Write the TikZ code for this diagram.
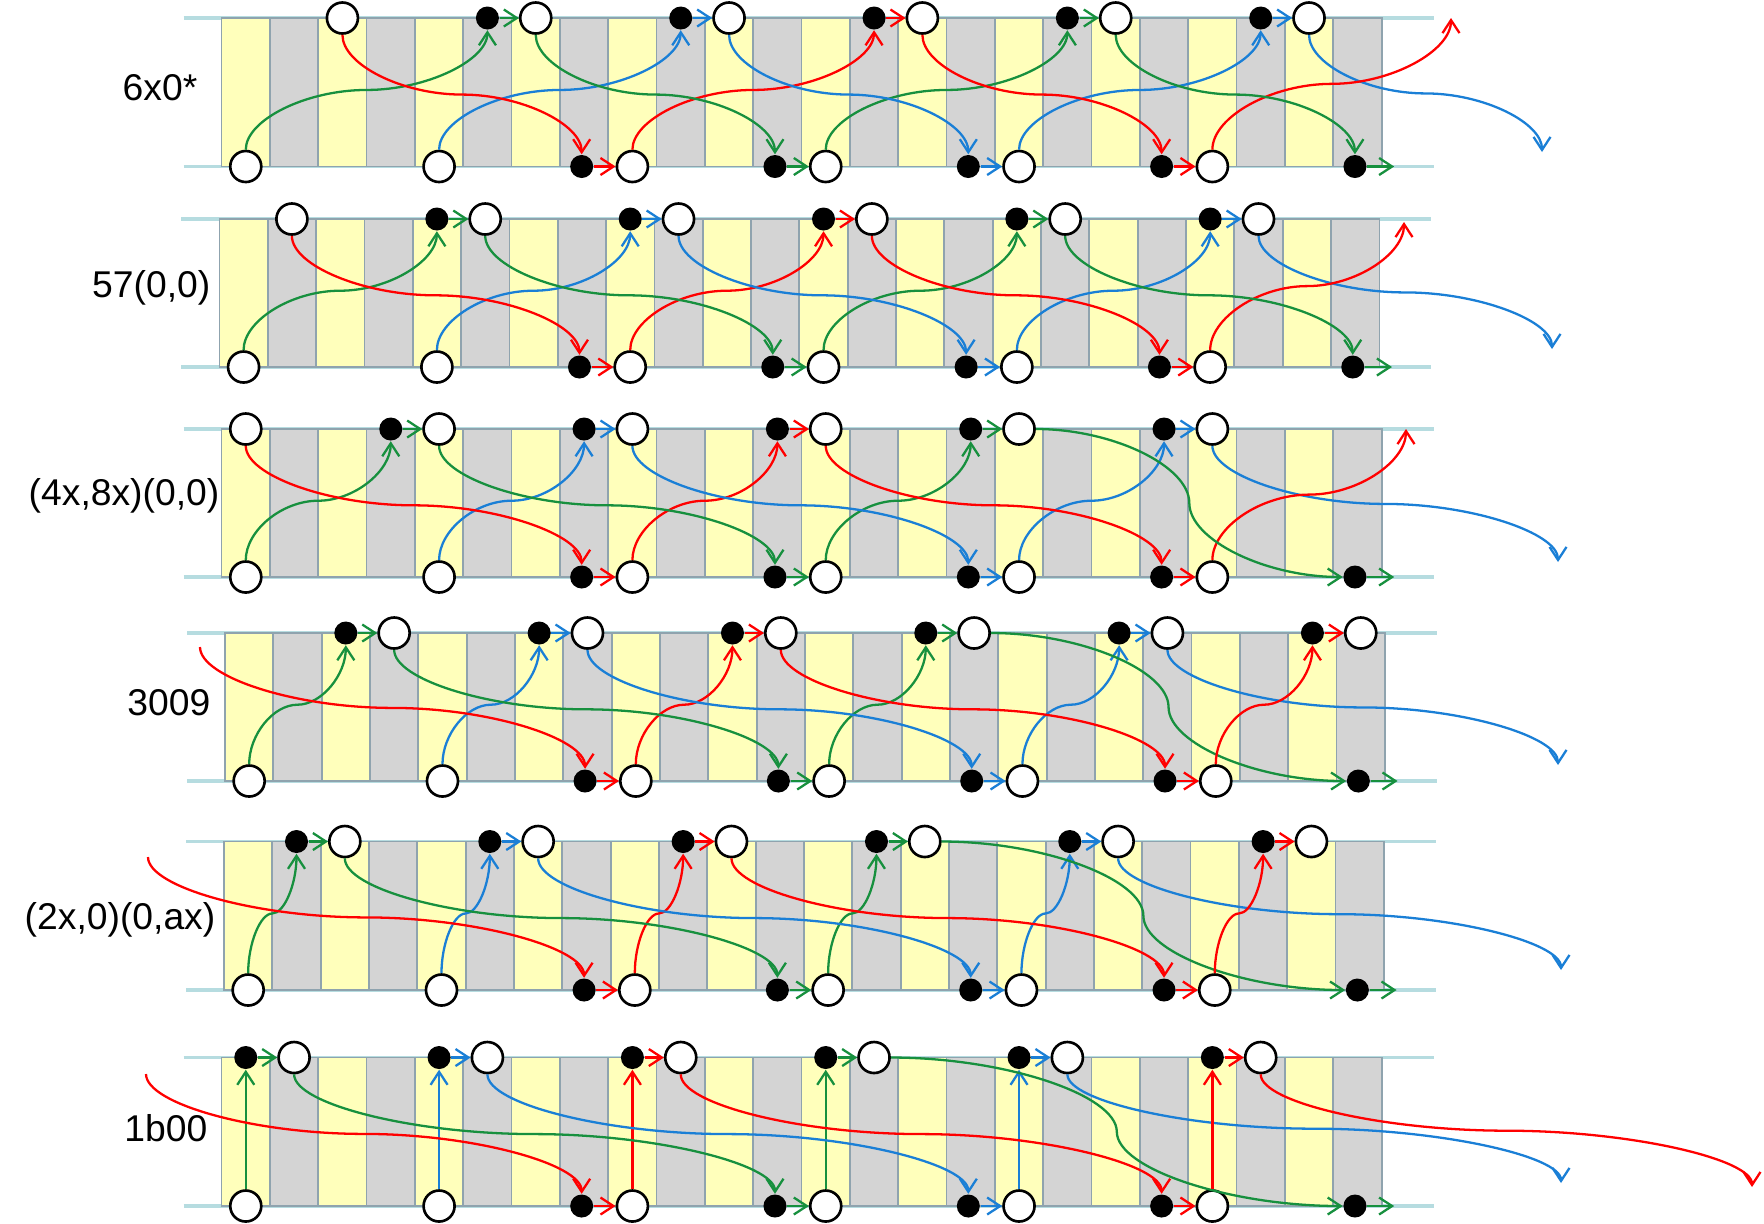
\documentclass[tikz,border=0pt]{standalone}
\usepackage{fontspec}
\setmainfont{Liberation Sans}
\usepackage{tikz}
\usetikzlibrary{arrows.meta}
\usetikzlibrary{calc, positioning}
\definecolor{vgreen}{HTML}{17903E}
\definecolor{vblue}{HTML}{1A7FD6}
\definecolor{vred}{HTML}{FF0000}
\definecolor{bandyellow}{HTML}{FFFFBB}
\definecolor{bandgray}{HTML}{D4D4D4}
\definecolor{bandedge}{HTML}{8FA3AE}
\definecolor{railblue}{HTML}{B6DCE0}

\begin{document}
\begin{tikzpicture}[x=0.01cm, y=-0.01cm,
  whitenode/.style={circle, draw=black, line width=0.75pt, fill=white, minimum size=0.31cm, inner sep=0pt},
  blacknode/.style={circle, fill=black, minimum size=0.23cm, inner sep=0pt},
  link/.style={line width=0.65pt, -{Straight Barb[length=1.3mm, width=1.7mm]}},
  rail/.style={draw=railblue, line width=1pt},
  rowlabel/.style={anchor=east, inner sep=0pt, font=\fontsize{10.6}{12}\selectfont},
  vv/.style={to path={let \p1=(\tikztostart), \p2=(\tikztotarget),
    \p3=({(\x1+\x2)/2},{(\y1+\y2)/2}) in
    .. controls (\x1,{(\y1+\y3)/2}) and ({(\x1+\x3)/2},\y3) .. (\p3)
    .. controls ({(\x3+\x2)/2},\y3) and (\x2,{(\y3+\y2)/2}) .. (\p2)}},
  hh/.style={to path={let \p1=(\tikztostart), \p2=(\tikztotarget),
    \p3=({(\x1+\x2)/2},{(\y1+\y2)/2}) in
    .. controls ({(\x1+\x3)/2},\y1) and (\x3,{(\y1+\y3)/2}) .. (\p3)
    .. controls (\x3,{(\y3+\y2)/2}) and ({(\x3+\x2)/2},\y2) .. (\p2)}}]
  \useasboundingbox (0,0) rectangle (1764,1223);

  % loose ends on the right and left
  \coordinate (rt-1) at (1451,18);
  \coordinate (rt-2) at (1404,222);
  \coordinate (rt-3) at (1406,429);
  \coordinate (bt-1) at (1542,152);
  \coordinate (bt-2) at (1552,349);
  \coordinate (bt-3) at (1558,562);
  \coordinate (bt-4) at (1558,765);
  \coordinate (bt-5) at (1561,970);
  \coordinate (bt-6) at (1561,1183);
  \coordinate (rl-4) at (200,647);
  \coordinate (rl-5) at (148,857);
  \coordinate (rl-6) at (146,1074);
  \coordinate (rf-6) at (1752,1187);

  % row labels
  \node[rowlabel] (lab-1) at (198,88) {6x0*};
  \node[rowlabel] (lab-2) at (211,288) {57(0,0)};
  \node[rowlabel] (lab-3) at (220,496) {(4x,8x)(0,0)};
  \node[rowlabel] (lab-4) at (211,703) {3009};
  \node[rowlabel] (lab-5) at (216,920) {(2x,0)(0,ax)};
  \node[rowlabel] (lab-6) at (208,1128) {1b00};

  % bands and nodes
  \foreach \r/\yt/\yb/\xl/\o in {1/18/166.5/221.6/5, 2/219/367/219.4/4, 3/429/577/221.6/3,
                                 4/633/781/225/2, 5/841.5/990/224/1, 6/1057.5/1206/221.6/0} {
    \draw[rail] ({\xl-38},\yt) -- ({\xl+1212},\yt);
    \draw[rail] ({\xl-38},\yb) -- ({\xl+1212},\yb);
    \foreach \u in {0,2,...,22}
      \fill[bandyellow] ({\xl+48.33*\u},\yt) rectangle ({\xl+48.33*(\u+1)},\yb);
    \foreach \u in {1,3,...,23}
      \fill[bandgray] ({\xl+48.33*\u},\yt) rectangle ({\xl+48.33*(\u+1)},\yb);
    \foreach \u in {1,...,23}
      \draw[bandedge, line width=0.5pt] ({\xl+48.33*\u},\yt) -- ({\xl+48.33*\u},\yb);
    \draw[bandedge, line width=0.5pt] (\xl,\yt) rectangle ({\xl+1160},\yb);

    \foreach \j in {0,...,5}
      \node[whitenode] (bw-\r-\j) at ({\xl+48.33*(0.5+4*\j)},\yb) {};
    \foreach \j in {2,...,6}
      \node[blacknode] (bb-\r-\j) at ({\xl+48.33*(4*\j-0.55)},\yb) {};
    \foreach \j in {0,...,4} {
      \node[blacknode] (tb-\r-\j) at ({\xl+48.33*(0.5+4*\j+\o)},\yt) {};
      \node[whitenode] (tw-\r-\j) at ({\xl+48.33*(1.5+4*\j+\o)},\yt) {};
    }
    \ifnum\r<4
      \node[whitenode] (tw-\r-m) at ({\xl+48.33*(\o-2.5)},\yt) {};
    \else
      \node[blacknode] (tb-\r-5) at ({\xl+48.33*(20.5+\o)},\yt) {};
      \node[whitenode] (tw-\r-5) at ({\xl+48.33*(21.5+\o)},\yt) {};
    \fi
  }

  % connectors common to all rows
  \foreach \r in {1,...,6} {
    \foreach \j/\col in {0/vgreen, 1/vblue, 2/vred, 3/vgreen, 4/vblue} {
      \draw[link, \col] (bw-\r-\j.north) to[vv] (tb-\r-\j.south);
      \draw[link, \col] (tb-\r-\j.east) -- (tw-\r-\j.west);
    }
    \foreach \j/\m/\col in {0/3/vgreen, 1/4/vblue, 2/5/vred}
      \draw[link, \col] (tw-\r-\j.south) to[vv] (bb-\r-\m.north);
    \foreach \m/\col in {2/vred, 3/vgreen, 4/vblue, 5/vred}
      \draw[link, \col] (bb-\r-\m.east) -- (bw-\r-\m.west);
    \coordinate[right=0.27cm of bb-\r-6] (be-\r);
    \draw[link, vgreen] (bb-\r-6.east) -- (be-\r);
    \draw[link, vblue] (tw-\r-4.south) to[vv] (bt-\r);
  }

  % upper three rows
  \foreach \r in {1,2,3} {
    \draw[link, vred] (tw-\r-m.south) to[vv] (bb-\r-2.north);
    \draw[link, vred] (bw-\r-5.north) to[vv] (rt-\r);
  }
  \draw[link, vgreen] (tw-1-3.south) to[vv] (bb-1-6.north);
  \draw[link, vgreen] (tw-2-3.south) to[vv] (bb-2-6.north);
  \foreach \r in {3,...,6}
    \draw[link, vgreen] (tw-\r-3.east) to[hh] (bb-\r-6.west);

  % lower three rows
  \foreach \r in {4,5,6} {
    \draw[link, vred] (rl-\r) to[vv] (bb-\r-2.north);
    \draw[link, vred] (bw-\r-5.north) to[vv] (tb-\r-5.south);
    \draw[link, vred] (tb-\r-5.east) -- (tw-\r-5.west);
  }
  \draw[link, vred] (tw-6-5.south) to[vv] (rf-6);
\end{tikzpicture}
\end{document}
